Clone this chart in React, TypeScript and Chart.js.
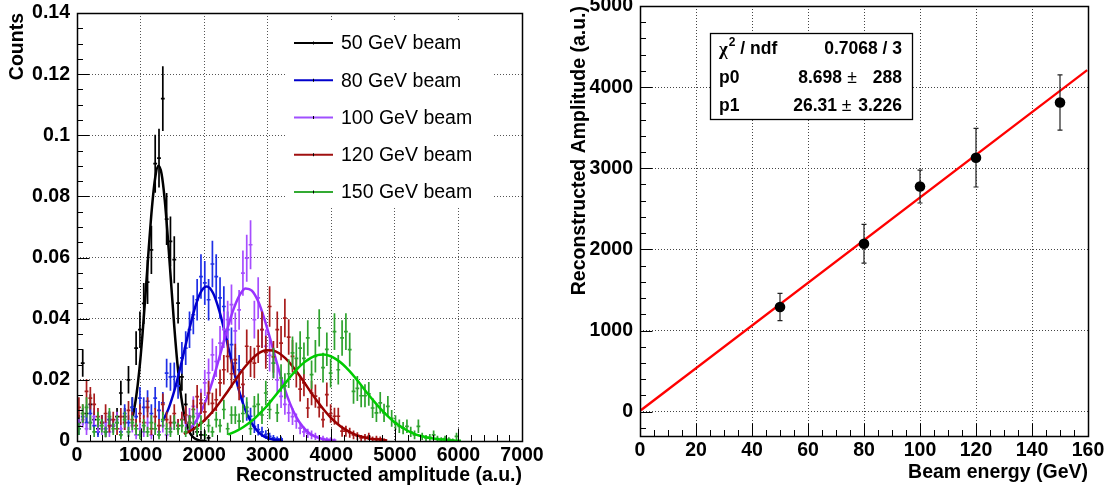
import React, { useEffect, useRef } from "react";
import { Chart, registerables } from "chart.js";

Chart.register(...registerables);

const FONT = "'Liberation Sans', Arial, Helvetica, sans-serif";

// ---------------- Left panel data ----------------
const ampTickValues = [0, 1000, 2000, 3000, 4000, 5000, 6000, 7000];
const ampTickLabels = ["0", "1000", "2000", "3000", "4000", "5000", "6000", "7000"];
const countTickValues = [0, 0.02, 0.04, 0.06, 0.08, 0.1, 0.12, 0.14];
const countTickLabels = ["0", "0.02", "0.04", "0.06", "0.08", "0.1", "0.12", "0.14"];
const beamLabels = ["50 GeV beam", "80 GeV beam", "100 GeV beam", "120 GeV beam", "150 GeV beam"];
const binHalfWidth = 30;

// [bin centre, normalised counts, error]
const hist50: [number, number, number][] = [
  [30, 0.006, 0.0025], [90, 0.0255, 0.0045], [150, 0.009, 0.003], [210, 0.012, 0.0033],
  [270, 0.007, 0.0027], [330, 0.004, 0.002], [390, 0.006, 0.0025], [450, 0.003, 0.0018],
  [510, 0.007, 0.0027], [570, 0.005, 0.0022], [630, 0.008, 0.0028], [690, 0.0157, 0.004],
  [750, 0.008, 0.0028], [810, 0.02, 0.0045], [870, 0.011, 0.0033], [930, 0.0304, 0.0055],
  [990, 0.0364, 0.006], [1050, 0.045, 0.0067], [1110, 0.052, 0.0072], [1170, 0.0625, 0.0079],
  [1230, 0.0907, 0.0095], [1290, 0.0925, 0.0096], [1350, 0.112, 0.0106], [1410, 0.0726, 0.0085],
  [1470, 0.0653, 0.0081], [1530, 0.0593, 0.0077], [1590, 0.0451, 0.0067], [1650, 0.021, 0.0046],
  [1710, 0.012, 0.0035], [1770, 0.006, 0.0025], [1830, 0.004, 0.002], [1890, 0.003, 0.0017],
  [1950, 0.002, 0.0014], [2010, 0.002, 0.0014], [2070, 0.001, 0.001],
];
const hist80: [number, number, number][] = [
  [30, 0.004, 0.002], [90, 0.008, 0.0028], [150, 0.006, 0.0025], [210, 0.009, 0.003],
  [270, 0.005, 0.0022], [330, 0.003, 0.0017], [390, 0.006, 0.0025], [450, 0.004, 0.002],
  [510, 0.007, 0.0026], [570, 0.005, 0.0022], [630, 0.006, 0.0024], [690, 0.003, 0.0017],
  [750, 0.009, 0.003], [810, 0.006, 0.0024], [870, 0.011, 0.0033], [930, 0.008, 0.0028],
  [990, 0.014, 0.0037], [1050, 0.011, 0.0033], [1110, 0.013, 0.0036], [1170, 0.009, 0.003],
  [1230, 0.014, 0.0037], [1290, 0.01, 0.0031], [1350, 0.0125, 0.0035], [1410, 0.0222, 0.0047],
  [1470, 0.021, 0.0046], [1530, 0.0211, 0.0046], [1590, 0.018, 0.0042], [1650, 0.0272, 0.0052],
  [1710, 0.0304, 0.0055], [1770, 0.0364, 0.006], [1830, 0.0413, 0.0064], [1890, 0.0462, 0.0068],
  [1950, 0.0538, 0.0073], [2010, 0.0517, 0.0072], [2070, 0.0462, 0.0068], [2130, 0.0579, 0.0076],
  [2190, 0.0538, 0.0073], [2250, 0.0468, 0.0068], [2310, 0.044, 0.0066], [2370, 0.0364, 0.006],
  [2430, 0.0315, 0.0056], [2490, 0.0255, 0.005], [2550, 0.0233, 0.0048], [2610, 0.0146, 0.0038],
  [2670, 0.0097, 0.0031], [2730, 0.0081, 0.0028], [2790, 0.0048, 0.0022], [2850, 0.0037, 0.0019],
  [2910, 0.003, 0.0017], [2970, 0.0021, 0.0014], [3030, 0.0015, 0.0012], [3090, 0.001, 0.001],
  [3150, 0.0007, 0.0008], [3210, 0.0007, 0.0008],
];
const hist100: [number, number, number][] = [
  [30, 0.005, 0.0022], [90, 0.007, 0.0026], [150, 0.004, 0.002], [210, 0.006, 0.0024],
  [270, 0.008, 0.0028], [330, 0.005, 0.0022], [390, 0.004, 0.002], [450, 0.006, 0.0024],
  [510, 0.003, 0.0017], [570, 0.005, 0.0022], [630, 0.007, 0.0026], [690, 0.004, 0.002],
  [750, 0.006, 0.0024], [810, 0.003, 0.0017], [870, 0.005, 0.0022], [930, 0.002, 0.0014],
  [990, 0.004, 0.002], [1050, 0.003, 0.0017], [1110, 0.006, 0.0024], [1170, 0.002, 0.0014],
  [1230, 0.004, 0.002], [1290, 0.003, 0.0017], [1350, 0.005, 0.0022], [1410, 0.002, 0.0014],
  [1470, 0.004, 0.002], [1530, 0.006, 0.0024], [1590, 0.005, 0.0022], [1650, 0.007, 0.0026],
  [1710, 0.006, 0.0024], [1770, 0.008, 0.0028], [1830, 0.0113, 0.0033], [1890, 0.009, 0.003],
  [1950, 0.0135, 0.0036], [2010, 0.019, 0.0043], [2070, 0.0223, 0.0047], [2130, 0.0282, 0.0053],
  [2190, 0.026, 0.0051], [2250, 0.032, 0.0056], [2310, 0.0364, 0.006], [2370, 0.0397, 0.0062],
  [2430, 0.0446, 0.0066], [2490, 0.036, 0.006], [2550, 0.0429, 0.0065], [2610, 0.0549, 0.0074],
  [2670, 0.0598, 0.0077], [2730, 0.0642, 0.008], [2790, 0.0397, 0.0062], [2850, 0.0468, 0.0068],
  [2910, 0.0364, 0.006], [2970, 0.031, 0.0055], [3030, 0.028, 0.0053], [3090, 0.0255, 0.005],
  [3150, 0.02, 0.0044], [3210, 0.0146, 0.0038], [3270, 0.012, 0.0034], [3330, 0.0092, 0.003],
  [3390, 0.008, 0.0028], [3450, 0.0065, 0.0025], [3510, 0.0042, 0.002], [3570, 0.003, 0.0017],
  [3630, 0.0025, 0.0015], [3690, 0.002, 0.0014], [3750, 0.0015, 0.0012], [3810, 0.001, 0.001],
  [3870, 0.0008, 0.0009], [3930, 0.0005, 0.0007], [3990, 0.0005, 0.0007], [4050, 0.0003, 0.0005],
];
const hist120: [number, number, number][] = [
  [30, 0.011, 0.0033], [90, 0.009, 0.003], [150, 0.0162, 0.004], [210, 0.014, 0.0037],
  [270, 0.012, 0.0035], [330, 0.008, 0.0028], [390, 0.006, 0.0024], [450, 0.009, 0.003],
  [510, 0.005, 0.0022], [570, 0.007, 0.0026], [630, 0.004, 0.002], [690, 0.008, 0.0028],
  [750, 0.006, 0.0024], [810, 0.01, 0.0031], [870, 0.007, 0.0026], [930, 0.005, 0.0022],
  [990, 0.009, 0.003], [1050, 0.006, 0.0024], [1110, 0.011, 0.0033], [1170, 0.004, 0.002],
  [1230, 0.008, 0.0028], [1290, 0.005, 0.0022], [1350, 0.012, 0.0035], [1410, 0.007, 0.0026],
  [1470, 0.006, 0.0024], [1530, 0.009, 0.003], [1590, 0.005, 0.0022], [1650, 0.007, 0.0026],
  [1710, 0.0085, 0.0029], [1770, 0.006, 0.0024], [1830, 0.0103, 0.0032], [1890, 0.0145, 0.0038],
  [1950, 0.0123, 0.0035], [2010, 0.0095, 0.0031], [2070, 0.0157, 0.004], [2130, 0.0123, 0.0035],
  [2190, 0.0135, 0.0037], [2250, 0.019, 0.0044], [2310, 0.0233, 0.0048], [2370, 0.0277, 0.0053],
  [2430, 0.022, 0.0047], [2490, 0.0266, 0.0052], [2550, 0.0175, 0.0042], [2610, 0.0185, 0.0043],
  [2670, 0.031, 0.0055], [2730, 0.026, 0.0051], [2790, 0.0255, 0.005], [2850, 0.031, 0.0055],
  [2910, 0.0364, 0.006], [2970, 0.029, 0.0054], [3030, 0.044, 0.0066], [3090, 0.0275, 0.0052],
  [3150, 0.0364, 0.006], [3210, 0.032, 0.0056], [3270, 0.0402, 0.0063], [3330, 0.034, 0.0058],
  [3390, 0.0277, 0.0053], [3450, 0.0222, 0.0047], [3510, 0.017, 0.0041], [3570, 0.019, 0.0044],
  [3630, 0.0108, 0.0033], [3690, 0.0157, 0.004], [3750, 0.0147, 0.0038], [3810, 0.011, 0.0033],
  [3870, 0.007, 0.0026], [3930, 0.0152, 0.0039], [3990, 0.009, 0.003], [4050, 0.0081, 0.0028],
  [4110, 0.0081, 0.0028], [4170, 0.0032, 0.0018], [4230, 0.0032, 0.0018], [4290, 0.0027, 0.0016],
  [4350, 0.002, 0.0014], [4410, 0.0016, 0.0013], [4470, 0.001, 0.001], [4530, 0.0012, 0.0011],
  [4590, 0.0015, 0.0012], [4650, 0.0007, 0.0008], [4710, 0.0008, 0.0009], [4770, 0.0007, 0.0008],
  [4830, 0.0003, 0.0005],
];
const hist150: [number, number, number][] = [
  [30, 0.004, 0.002], [90, 0.009, 0.003], [150, 0.011, 0.0033], [210, 0.006, 0.0024],
  [270, 0.003, 0.0017], [330, 0.007, 0.0026], [390, 0.005, 0.0022], [450, 0.003, 0.0017],
  [510, 0.008, 0.0028], [570, 0.004, 0.002], [630, 0.006, 0.0024], [690, 0.002, 0.0014],
  [750, 0.007, 0.0026], [810, 0.003, 0.0017], [870, 0.006, 0.0024], [930, 0.004, 0.002],
  [990, 0.002, 0.0014], [1050, 0.005, 0.0022], [1110, 0.003, 0.0017], [1170, 0.006, 0.0024],
  [1230, 0.004, 0.002], [1290, 0.002, 0.0014], [1350, 0.007, 0.0026], [1410, 0.004, 0.002],
  [1470, 0.003, 0.0017], [1530, 0.006, 0.0024], [1590, 0.004, 0.002], [1650, 0.005, 0.0022],
  [1710, 0.003, 0.0017], [1770, 0.006, 0.0024], [1830, 0.008, 0.0028], [1890, 0.004, 0.002],
  [1950, 0.006, 0.0024], [2010, 0.002, 0.0014], [2070, 0.005, 0.0022], [2130, 0.003, 0.0017],
  [2190, 0.007, 0.0026], [2250, 0.005, 0.0022], [2310, 0.0103, 0.0032], [2370, 0.004, 0.002],
  [2430, 0.0085, 0.0029], [2490, 0.0085, 0.0029], [2550, 0.0065, 0.0025], [2610, 0.009, 0.003],
  [2670, 0.011, 0.0033], [2730, 0.004, 0.002], [2790, 0.0113, 0.0034], [2850, 0.012, 0.0035],
  [2910, 0.0085, 0.0029], [2970, 0.0157, 0.004], [3030, 0.0103, 0.0032], [3090, 0.0255, 0.005],
  [3150, 0.0092, 0.003], [3210, 0.0206, 0.0045], [3270, 0.018, 0.0042], [3330, 0.022, 0.0047],
  [3390, 0.0288, 0.0054], [3450, 0.027, 0.0052], [3510, 0.0304, 0.0055], [3570, 0.027, 0.0052],
  [3630, 0.0337, 0.0058], [3690, 0.0217, 0.0046], [3750, 0.0277, 0.0053], [3810, 0.037, 0.0061],
  [3870, 0.024, 0.0049], [3930, 0.03, 0.0055], [3990, 0.0222, 0.0047], [4050, 0.0358, 0.006],
  [4110, 0.0233, 0.0048], [4170, 0.0337, 0.0058], [4230, 0.0358, 0.006], [4290, 0.0299, 0.0055],
  [4350, 0.0162, 0.004], [4410, 0.0172, 0.0041], [4470, 0.0148, 0.0038], [4530, 0.0148, 0.0038],
  [4590, 0.0154, 0.0039], [4650, 0.0108, 0.0033], [4710, 0.0092, 0.003], [4770, 0.0125, 0.0035],
  [4830, 0.0092, 0.003], [4890, 0.0113, 0.0034], [4950, 0.0074, 0.0027], [5010, 0.006, 0.0024],
  [5070, 0.0048, 0.0022], [5130, 0.0042, 0.002], [5190, 0.0048, 0.0022], [5250, 0.003, 0.0017],
  [5310, 0.002, 0.0014], [5370, 0.0048, 0.0022], [5430, 0.0015, 0.0012], [5490, 0.001, 0.001],
  [5550, 0.0012, 0.0011], [5610, 0.002, 0.0014], [5670, 0.0008, 0.0009], [5730, 0.0005, 0.0007],
  [5790, 0.0008, 0.0009], [5850, 0.0005, 0.0007], [5910, 0.0003, 0.0005], [5970, 0.0015, 0.0012],
];

const fit50: [number, number][] = [
  [880, 0.0082], [930, 0.0143], [980, 0.0231], [1030, 0.0348], [1080, 0.0487], [1130, 0.0634],
  [1180, 0.0766], [1230, 0.0861], [1280, 0.09], [1330, 0.0874], [1380, 0.0789], [1430, 0.0662],
  [1480, 0.0517], [1530, 0.0375], [1580, 0.0252], [1630, 0.0158], [1680, 0.0092], [1730, 0.005],
  [1780, 0.0025], [1830, 0.0012], [1880, 0.0005], [1930, 0.0002], [1980, 0.0001], [2040, 0.0],
];
const fit80: [number, number][] = [
  [1340, 0.0061], [1440, 0.0106], [1540, 0.0171], [1640, 0.0253], [1740, 0.0342], [1840, 0.0425],
  [1940, 0.0484], [2040, 0.0505], [2140, 0.0484], [2240, 0.0425], [2340, 0.0342], [2440, 0.0253],
  [2540, 0.0171], [2640, 0.0106], [2740, 0.0061], [2840, 0.0032], [2940, 0.0015], [3040, 0.0007],
  [3140, 0.0003], [3240, 0.0001],
];
const fit100: [number, number][] = [
  [1750, 0.0034], [1850, 0.0058], [1950, 0.0095], [2050, 0.0145], [2150, 0.0208], [2250, 0.0281],
  [2350, 0.0356], [2450, 0.0424], [2550, 0.0474], [2650, 0.0499], [2750, 0.0492], [2850, 0.0457],
  [2950, 0.0398], [3050, 0.0326], [3150, 0.0251], [3250, 0.0181], [3350, 0.0123], [3450, 0.0078],
  [3550, 0.0047], [3650, 0.0026], [3750, 0.0014], [3850, 0.0007], [3950, 0.0003], [4050, 0.0001],
];
const fit120: [number, number][] = [
  [1680, 0.0023], [1780, 0.0033], [1880, 0.0046], [1980, 0.0063], [2080, 0.0084], [2180, 0.0108],
  [2280, 0.0136], [2380, 0.0165], [2480, 0.0196], [2580, 0.0226], [2680, 0.0252], [2780, 0.0274],
  [2880, 0.029], [2980, 0.0297], [3080, 0.0296], [3180, 0.0287], [3280, 0.027], [3380, 0.0247],
  [3480, 0.022], [3580, 0.019], [3680, 0.0159], [3780, 0.013], [3880, 0.0103], [3980, 0.0079],
  [4080, 0.0059], [4180, 0.0043], [4280, 0.0031], [4380, 0.0021], [4480, 0.0014], [4580, 0.0009],
  [4680, 0.0006], [4780, 0.0004], [4880, 0.0002],
];
const fit150: [number, number][] = [
  [2380, 0.0021], [2480, 0.003], [2580, 0.0041], [2680, 0.0055], [2780, 0.0071], [2880, 0.0091],
  [2980, 0.0113], [3080, 0.0138], [3180, 0.0164], [3280, 0.019], [3380, 0.0216], [3480, 0.0239],
  [3580, 0.0258], [3680, 0.0272], [3780, 0.0281], [3880, 0.0283], [3980, 0.0278], [4080, 0.0267],
  [4180, 0.0251], [4280, 0.023], [4380, 0.0206], [4480, 0.018], [4580, 0.0153], [4680, 0.0128],
  [4780, 0.0104], [4880, 0.0083], [4980, 0.0064], [5080, 0.0049], [5180, 0.0036], [5280, 0.0026],
  [5380, 0.0018], [5480, 0.0013], [5580, 0.0009], [5680, 0.0006], [5780, 0.0004], [5880, 0.0002],
  [5980, 0.0001], [6040, 0.0001],
];

const histSeries = [hist50, hist80, hist100, hist120, hist150];
const fitSeries = [fit50, fit80, fit100, fit120, fit150];

// ---------------- Right panel data ----------------
const beamEnergies = [50, 80, 100, 120, 150];
const recoAmplitudes = [1290, 2070, 2775, 3130, 3810];
const recoErrors = [168, 238, 203, 361, 340];
const fitLineX = [0.3, 159.7];
const fitLineY = [17, 4210];
const energyTickValues = [0, 20, 40, 60, 80, 100, 120, 140, 160];
const energyTickLabels = ["0", "20", "40", "60", "80", "100", "120", "140", "160"];
const recoTickValues = [0, 1000, 2000, 3000, 4000, 5000];
const recoTickLabels = ["0", "1000", "2000", "3000", "4000", "5000"];
const statsNames = ["/ ndf", "p0", "p1"];
const statsValues = ["0.7068 / 3", "8.698", "26.31"];
const statsErrors = ["", "288", "3.226"];

// ---------------- Styles ----------------
const pointColors = ["#000000", "#1f2fe6", "#a64dff", "#a81c1c", "#2fa32f"];
const curveColors = ["#000000", "#0000cc", "#9933ff", "#990000", "#00cc00"];
const legendColors = ["#000000", "#0000cc", "#a050ff", "#a01010", "#33aa33"];

const tickFont = { family: FONT, size: 19.5, weight: "bold" as const };
const titleFont = { family: FONT, size: 19.5, weight: "bold" as const };

function zeroPad(scale: any, size: number, horizontal: boolean) {
  if (horizontal) scale.height = size;
  else scale.width = size;
  scale.paddingLeft = 0;
  scale.paddingRight = 0;
  scale.paddingTop = 0;
  scale.paddingBottom = 0;
}

function frameTicksPlugin(xMinor: number, xMajor: number, yMinor: number, yMajor: number) {
  return {
    id: "frameTicks",
    afterDraw(chart: any) {
      const { ctx, chartArea: a, scales } = chart;
      const xs = scales.x;
      const ys = scales.y;
      ctx.save();
      ctx.strokeStyle = "#000";
      ctx.lineWidth = 1;
      const isMajor = (v: number, m: number) => Math.abs(v / m - Math.round(v / m)) < 1e-6;
      for (let k = Math.ceil(xs.min / xMinor - 1e-9); k * xMinor <= xs.max + 1e-9; k++) {
        const v = k * xMinor;
        const px = Math.round(xs.getPixelForValue(v)) + 0.5;
        const len = isMajor(v, xMajor) ? 12.5 : 6;
        ctx.beginPath();
        ctx.moveTo(px, a.bottom);
        ctx.lineTo(px, a.bottom - len);
        ctx.stroke();
      }
      for (let k = Math.ceil(ys.min / yMinor - 1e-9); k * yMinor <= ys.max + 1e-9; k++) {
        const v = k * yMinor;
        const py = Math.round(ys.getPixelForValue(v)) + 0.5;
        const len = isMajor(v, yMajor) ? 12.5 : 6;
        ctx.beginPath();
        ctx.moveTo(a.left, py);
        ctx.lineTo(a.left + len, py);
        ctx.stroke();
      }
      ctx.lineWidth = 1.5;
      ctx.strokeRect(Math.round(a.left) + 0.5, Math.round(a.top) + 0.5, Math.round(a.width), Math.round(a.height));
      ctx.restore();
    },
  };
}

const histErrorPlugin = {
  id: "histErrors",
  beforeDatasetDraw(chart: any, args: any) {
    const ds = chart.data.datasets[args.index];
    if (!ds.histErrors) return;
    const { ctx, chartArea: a, scales } = chart;
    const xs = scales.x;
    const ys = scales.y;
    ctx.save();
    ctx.beginPath();
    ctx.rect(a.left, a.top, a.width, a.height);
    ctx.clip();
    ctx.strokeStyle = ds.histColor;
    ctx.lineWidth = 1.7;
    args.meta.data.forEach((el: any, i: number) => {
      const raw = ds.data[i];
      const e = ds.histErrors[i];
      const x0 = xs.getPixelForValue(raw.x - binHalfWidth);
      const x1 = xs.getPixelForValue(raw.x + binHalfWidth);
      const y0 = ys.getPixelForValue(raw.y - e);
      const y1 = ys.getPixelForValue(raw.y + e);
      ctx.beginPath();
      ctx.moveTo(x0, el.y);
      ctx.lineTo(x1, el.y);
      ctx.moveTo(el.x, y0);
      ctx.lineTo(el.x, y1);
      ctx.stroke();
    });
    ctx.restore();
  },
};

const legendPlugin = {
  id: "beamLegend",
  afterDatasetsDraw(chart: any) {
    const { ctx } = chart;
    ctx.save();
    ctx.fillStyle = "#fff";
    ctx.fillRect(286, 22, 208, 184);
    ctx.font = `19.5px ${FONT}`;
    ctx.textBaseline = "middle";
    ctx.textAlign = "left";
    beamLabels.forEach((lab, i) => {
      const y = 43 + i * 37.25;
      ctx.strokeStyle = legendColors[i];
      ctx.lineWidth = 2;
      ctx.beginPath();
      ctx.moveTo(294, y);
      ctx.lineTo(333, y);
      ctx.stroke();
      ctx.strokeStyle = "#000";
      ctx.lineWidth = 1;
      ctx.beginPath();
      ctx.moveTo(313.5, y - 1.5);
      ctx.lineTo(313.5, y + 1.5);
      ctx.stroke();
      ctx.fillStyle = "#000";
      ctx.fillText(lab, 341, y + 1);
    });
    ctx.restore();
  },
};

const pointErrorPlugin = {
  id: "pointErrors",
  beforeDatasetDraw(chart: any, args: any) {
    const ds = chart.data.datasets[args.index];
    if (!ds.yErrors) return;
    const { ctx, scales } = chart;
    const ys = scales.y;
    ctx.save();
    ctx.strokeStyle = "#222";
    ctx.lineWidth = 1.2;
    args.meta.data.forEach((el: any, i: number) => {
      const raw = ds.data[i];
      const e = ds.yErrors[i];
      const y0 = ys.getPixelForValue(raw.y - e);
      const y1 = ys.getPixelForValue(raw.y + e);
      ctx.beginPath();
      ctx.moveTo(el.x, y0);
      ctx.lineTo(el.x, y1);
      ctx.moveTo(el.x - 2.5, y0);
      ctx.lineTo(el.x + 2.5, y0);
      ctx.moveTo(el.x - 2.5, y1);
      ctx.lineTo(el.x + 2.5, y1);
      ctx.stroke();
    });
    ctx.restore();
  },
};

const statsPlugin = {
  id: "statsBox",
  afterDatasetsDraw(chart: any) {
    const { ctx } = chart;
    ctx.save();
    ctx.fillStyle = "#fff";
    ctx.fillRect(156, 33, 202, 86);
    ctx.strokeStyle = "#000";
    ctx.lineWidth = 1.3;
    ctx.strokeRect(156.5, 33.5, 202, 86);
    ctx.fillStyle = "#000";
    ctx.textBaseline = "middle";
    const rowsY = [49, 78, 106.5];
    const bold = `bold 17.5px ${FONT}`;
    // row 1: chi2 / ndf
    ctx.font = `bold 19px 'Liberation Serif', 'DejaVu Serif', serif`;
    ctx.textAlign = "left";
    ctx.fillText("\u03c7", 165, rowsY[0] + 1);
    const chiW = ctx.measureText("\u03c7").width;
    ctx.font = `bold 12px ${FONT}`;
    ctx.fillText("2", 165 + chiW + 1, rowsY[0] - 6);
    const twoW = ctx.measureText("2").width;
    ctx.font = bold;
    ctx.fillText(" " + statsNames[0], 165 + chiW + 1 + twoW, rowsY[0]);
    ctx.textAlign = "right";
    ctx.fillText(statsValues[0], 348, rowsY[0]);
    // rows 2, 3
    const valRight = [0, 288, 283];
    const pmX = [0, 298, 292.5];
    for (let r = 1; r < 3; r++) {
      ctx.textAlign = "left";
      ctx.fillText(statsNames[r], 165, rowsY[r]);
      ctx.textAlign = "right";
      ctx.fillText(statsValues[r], valRight[r], rowsY[r]);
      ctx.fillText(statsErrors[r], 348, rowsY[r]);
      ctx.textAlign = "center";
      ctx.font = `17.5px ${FONT}`;
      ctx.fillText("\u00b1", pmX[r], rowsY[r]);
      ctx.font = bold;
    }
    ctx.restore();
  },
};

function LeftPanel() {
  const ref = useRef<HTMLCanvasElement>(null);
  useEffect(() => {
    const datasets: any[] = [];
    histSeries.forEach((h, k) => {
      datasets.push({
        label: beamLabels[k] + " data",
        data: h.map(([x, y]) => ({ x, y })),
        histErrors: h.map((p) => p[2]),
        histColor: pointColors[k],
        pointRadius: 0,
        pointHoverRadius: 0,
        showLine: false,
        order: 10 - 2 * k,
      });
      datasets.push({
        label: beamLabels[k],
        data: fitSeries[k].map(([x, y]) => ({ x, y })),
        showLine: true,
        borderColor: curveColors[k],
        borderWidth: 2.5,
        pointRadius: 0,
        pointHoverRadius: 0,
        cubicInterpolationMode: "monotone",
        fill: false,
        order: 9 - 2 * k,
      });
    });
    const chart = new Chart(ref.current as HTMLCanvasElement, {
      type: "scatter",
      data: { datasets },
      options: {
        animation: false,
        responsive: false,
        events: [],
        layout: { padding: { left: 0, right: 32, top: 13, bottom: 0 } },
        plugins: { legend: { display: false }, tooltip: { enabled: false } },
        scales: {
          x: {
            type: "linear",
            min: 0,
            max: 7000,
            afterBuildTicks: (s: any) => {
              s.ticks = ampTickValues.map((v) => ({ value: v }));
            },
            afterFit: (s: any) => zeroPad(s, 50, true),
            ticks: {
              autoSkip: false,
              maxRotation: 0,
              padding: 3,
              color: "#000",
              font: tickFont,
              callback: (_v: any, i: number) => ampTickLabels[i],
            },
            grid: { color: "#555", lineWidth: 1, drawTicks: false },
            border: { display: false, dash: [1, 2] },
            title: {
              display: true,
              text: "Reconstructed amplitude (a.u.)",
              align: "end",
              color: "#000",
              font: titleFont,
              padding: { top: 0, bottom: 4 },
            },
          },
          y: {
            type: "linear",
            min: 0,
            max: 0.14,
            afterBuildTicks: (s: any) => {
              s.ticks = countTickValues.map((v) => ({ value: v }));
            },
            afterFit: (s: any) => zeroPad(s, 77, false),
            ticks: {
              autoSkip: false,
              padding: 7,
              color: "#000",
              font: tickFont,
              callback: (_v: any, i: number) => countTickLabels[i],
            },
            grid: { color: "#555", lineWidth: 1, drawTicks: false },
            border: { display: false, dash: [1, 2] },
            title: {
              display: true,
              text: "Counts",
              align: "end",
              color: "#000",
              font: titleFont,
              padding: { top: 6, bottom: 0 },
            },
          },
        },
      } as any,
      plugins: [histErrorPlugin, legendPlugin, frameTicksPlugin(200, 1000, 0.005, 0.02)],
    });
    return () => chart.destroy();
  }, []);
  return (
    <canvas
      ref={ref}
      width={554}
      height={491}
      style={{ position: "absolute", left: 0, top: 0, width: 554, height: 491 }}
    />
  );
}

function RightPanel() {
  const ref = useRef<HTMLCanvasElement>(null);
  useEffect(() => {
    const chart = new Chart(ref.current as HTMLCanvasElement, {
      type: "scatter",
      data: {
        datasets: [
          {
            label: "fit",
            data: fitLineX.map((x, i) => ({ x, y: fitLineY[i] })),
            showLine: true,
            borderColor: "#ff0000",
            borderWidth: 2.3,
            pointRadius: 0,
            pointHoverRadius: 0,
            order: 2,
          },
          {
            label: "Reconstructed amplitude",
            data: beamEnergies.map((x, i) => ({ x, y: recoAmplitudes[i] })),
            yErrors: recoErrors,
            showLine: false,
            pointRadius: 5.3,
            pointHoverRadius: 5.3,
            backgroundColor: "#000",
            borderColor: "#000",
            borderWidth: 0,
            order: 1,
          } as any,
        ],
      },
      options: {
        animation: false,
        responsive: false,
        events: [],
        layout: { padding: { left: 0, right: 20, top: 6, bottom: 0 } },
        plugins: { legend: { display: false }, tooltip: { enabled: false } },
        scales: {
          x: {
            type: "linear",
            min: 0,
            max: 160,
            afterBuildTicks: (s: any) => {
              s.ticks = energyTickValues.map((v) => ({ value: v }));
            },
            afterFit: (s: any) => zeroPad(s, 55, true),
            ticks: {
              autoSkip: false,
              maxRotation: 0,
              padding: 3,
              color: "#000",
              font: tickFont,
              callback: (_v: any, i: number) => energyTickLabels[i],
            },
            grid: { color: "#444", lineWidth: 1, drawTicks: false },
            border: { display: false, dash: [1, 2] },
            title: {
              display: true,
              text: "Beam energy (GeV)",
              align: "end",
              color: "#000",
              font: titleFont,
              padding: { top: 0, bottom: 7 },
            },
          },
          y: {
            type: "linear",
            min: -300,
            max: 5000,
            afterBuildTicks: (s: any) => {
              s.ticks = recoTickValues.map((v) => ({ value: v }));
            },
            afterFit: (s: any) => zeroPad(s, 86, false),
            ticks: {
              autoSkip: false,
              padding: 7,
              color: "#000",
              font: tickFont,
              callback: (_v: any, i: number) => recoTickLabels[i],
            },
            grid: { color: "#444", lineWidth: 1, drawTicks: false },
            border: { display: false, dash: [1, 2] },
            title: {
              display: true,
              text: "Reconstructed Amplitude (a.u.)",
              align: "end",
              color: "#000",
              font: titleFont,
              padding: { top: 14, bottom: 0 },
            },
          },
        },
      } as any,
      plugins: [pointErrorPlugin, statsPlugin, frameTicksPlugin(5, 20, 200, 1000)],
    });
    return () => chart.destroy();
  }, []);
  return (
    <canvas
      ref={ref}
      width={554}
      height={491}
      style={{ position: "absolute", left: 554, top: 0, width: 554, height: 491 }}
    />
  );
}

export default function App() {
  return (
    <div
      style={{
        position: "absolute",
        left: 0,
        top: 0,
        width: 1108,
        height: 491,
        background: "#fff",
        overflow: "hidden",
      }}
    >
      <LeftPanel />
      <RightPanel />
    </div>
  );
}
